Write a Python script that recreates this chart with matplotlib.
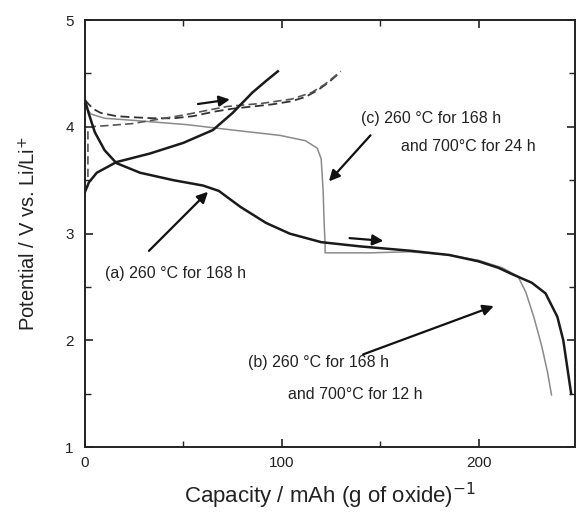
import numpy as np
from matplotlib import pyplot as plt
from matplotlib.ticker import MultipleLocator

# discharge curve, thick black solid (a)/(b)
disch_x = [0, 2, 5, 10, 16, 28, 45, 60, 68, 79, 92, 104, 120, 140, 165, 185, 200, 210, 217, 227, 234, 240, 243, 245, 247]
disch_y = [4.25, 4.12, 3.95, 3.78, 3.66, 3.57, 3.5, 3.45, 3.4, 3.25, 3.1, 3.0, 2.92, 2.88, 2.84, 2.8, 2.74, 2.68, 2.62, 2.54, 2.44, 2.22, 2.0, 1.75, 1.5]

# charge curve, thick black solid
charge_x = [0, 2, 6, 16, 33, 50, 65, 75, 85, 92, 98]
charge_y = [3.39, 3.48, 3.57, 3.67, 3.75, 3.85, 3.97, 4.13, 4.32, 4.43, 4.52]

# thin grey discharge (c)
gray_x = [0, 3, 10, 25, 52, 75, 99, 112, 118, 120, 121, 121.5, 122, 122, 130, 145, 165, 185, 200, 212, 220, 224, 228, 232, 235, 237]
gray_y = [4.2, 4.12, 4.08, 4.06, 4.02, 3.97, 3.92, 3.87, 3.8, 3.7, 3.4, 3.1, 2.9, 2.82, 2.82, 2.82, 2.83, 2.8, 2.75, 2.68, 2.6, 2.45, 2.22, 1.95, 1.7, 1.49]

# dashed charge curves
dash_a_x = [0, 4, 8, 16, 24, 35, 45, 55, 65, 75, 85, 95, 105, 112, 118, 124, 129]
dash_a_y = [4.25, 4.17, 4.13, 4.1, 4.09, 4.08, 4.08, 4.1, 4.14, 4.17, 4.19, 4.21, 4.24, 4.28, 4.34, 4.42, 4.5]
dash_b_x = [1.5, 1.5, 2.5, 10, 24, 50, 72, 90, 105, 115, 122, 130]
dash_b_y = [3.53, 4.0, 4.0, 4.01, 4.03, 4.11, 4.19, 4.22, 4.26, 4.32, 4.4, 4.52]

plt.rcParams['font.family'] = ['Liberation Sans', 'DejaVu Sans']

fig = plt.figure(figsize=(5.78, 5.14), dpi=100)
ax = fig.add_axes([0.147, 0.130, 0.848, 0.831])

ax.plot(gray_x, gray_y, color='#8a8a8a', lw=1.1)
ax.plot(dash_a_x, dash_a_y, color='#333333', lw=1.3, ls=(0, (5, 2.5)))
ax.plot(dash_b_x, dash_b_y, color='#555555', lw=1.2, ls=(0, (5, 2.5)))
ax.plot(charge_x, charge_y, color='#1a1a1a', lw=1.8)
ax.plot(disch_x, disch_y, color='#1a1a1a', lw=1.8)

arr = dict(arrowstyle='-|>', color='#111111', lw=1.6, mutation_scale=16)
ax.annotate('', xy=(75, 4.26), xytext=(56, 4.21), arrowprops=arr)
ax.annotate('', xy=(153, 2.93), xytext=(133, 2.96), arrowprops=arr)
ax.annotate('', xy=(63.5, 3.41), xytext=(31.5, 2.82), arrowprops=arr)
ax.annotate('', xy=(123, 3.47), xytext=(146, 3.94), arrowprops=arr)
ax.annotate('', xy=(209, 2.33), xytext=(140, 1.86), arrowprops=arr)

fs = 11.5
ax.text(140, 4.08, '(c) 260 \u00b0C for 168 h', fontsize=fs, va='center', color='#222')
ax.text(160.5, 3.82, 'and 700\u00b0C for 24 h', fontsize=fs, va='center', color='#222')
ax.text(10, 2.63, '(a) 260 \u00b0C for 168 h', fontsize=fs, va='center', color='#222')
ax.text(83, 1.79, '(b) 260 \u00b0C for 168 h', fontsize=fs, va='center', color='#222')
ax.text(103, 1.49, 'and 700\u00b0C for 12 h', fontsize=fs, va='center', color='#222')

ax.set_xlim(0, 249)
ax.set_ylim(1, 5)
ax.xaxis.set_major_locator(MultipleLocator(100))
ax.xaxis.set_minor_locator(MultipleLocator(50))
ax.yaxis.set_major_locator(MultipleLocator(1))
ax.yaxis.set_minor_locator(MultipleLocator(0.5))
ax.tick_params(which='both', direction='in', top=True, right=True, labelsize=11, colors='#222')
ax.tick_params(which='major', length=6, width=1.2)
ax.tick_params(which='minor', length=4, width=1.0)
ax.tick_params(axis='x', which='major', pad=6)
ax.tick_params(axis='y', which='major', pad=8)
for s in ax.spines.values():
    s.set_linewidth(1.4)
    s.set_color('#222')

ax.set_xlabel('Capacity / mAh (g of oxide)$^{-1}$', fontsize=16, color='#222', labelpad=8)
ax.set_ylabel('Potential / V vs. Li/Li$^{+}$', fontsize=14.5, color='#222', labelpad=19)

fig.savefig('out.png', dpi=100)
